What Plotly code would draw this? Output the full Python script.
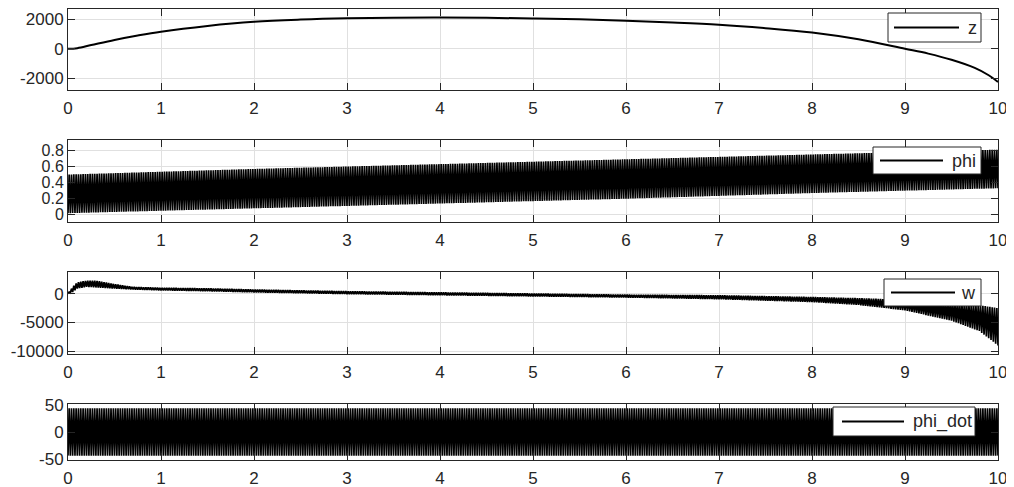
import numpy as np
import plotly.graph_objects as go

# ---------------- data ----------------
x_ticks = [0, 1, 2, 3, 4, 5, 6, 7, 8, 9, 10]

# z (smooth curve)
t_z = [0, 0.1, 0.25, 0.5, 0.75, 1, 1.5, 2, 2.5, 3, 3.5, 4, 4.5, 5, 5.5, 6,
       6.5, 7, 7.5, 8, 8.5, 9, 9.25, 9.5, 9.75, 9.9, 10]
z_vals = [0, 40, 250, 600, 900, 1160, 1550, 1830, 1980, 2070, 2110, 2120,
          2100, 2060, 2000, 1900, 1780, 1630, 1400, 1100, 640, 0, -330,
          -750, -1300, -1800, -2250]

# phi (dense oscillation): upper / lower envelopes
t_phi_env = [0, 2, 4, 6, 8, 10]
phi_upper = [0.50, 0.57, 0.63, 0.69, 0.75, 0.81]
phi_lower = [0.02, 0.08, 0.14, 0.20, 0.27, 0.33]

# w (dense oscillation): upper / lower envelopes
t_w_env = [0, 0.05, 0.1, 0.2, 0.3, 0.5, 0.7, 1, 1.5, 2, 3, 4, 5, 6, 7, 8,
           8.5, 9, 9.5, 9.8, 10]
w_upper = [0, 1200, 2000, 2300, 2300, 1700, 1200, 1050, 950, 750, 450, 250,
           50, -150, -250, -550, -750, -1050, -1600, -2000, -2500]
w_lower = [0, 300, 900, 1200, 1100, 900, 750, 600, 450, 250, -50, -250, -450,
           -650, -950, -1450, -1950, -2900, -4700, -6500, -9000]

# phi_dot (dense oscillation): upper / lower envelopes
t_phidot_env = [0, 10]
phidot_upper = [43, 43]
phidot_lower = [-43, -43]

# oscillation rate read from the tooth spacing (cycles per second)
osc_cycles_per_s = 40

series_names = ["z", "phi", "w", "phi_dot"]
y_ticks = [[-2000, 0, 2000], [0, 0.2, 0.4, 0.6, 0.8], [-10000, -5000, 0], [-50, 0, 50]]
y_ticktext = [["-2000", "0", "2000"], ["0", "0.2", "0.4", "0.6", "0.8"],
              ["-10000", "-5000", "0"], ["-50", "0", "50"]]
y_ranges = [[-2800, 2700], [-0.09, 0.93], [-10500, 3800], [-51, 51]]


def zigzag(t_env, upper, lower):
    n = int(round(10 * osc_cycles_per_s * 2))
    tt = np.linspace(0, 10, n + 1)
    up = np.interp(tt, t_env, upper)
    lo = np.interp(tt, t_env, lower)
    yy = np.where(np.arange(n + 1) % 2 == 0, lo, up)
    return tt, yy


t_phi, phi_vals = zigzag(t_phi_env, phi_upper, phi_lower)
t_w, w_vals = zigzag(t_w_env, w_upper, w_lower)
t_pd, pd_vals = zigzag(t_phidot_env, phidot_upper, phidot_lower)

# ---------------- figure ----------------
# the page has an 8px body margin, so the figure is drawn 8px in from the corner
OFF = 8
W, H = 1014 - OFF, 487 - OFF
def px(x):
    return (x - OFF) / W
def py(y):
    return 1 - (y - OFF) / H

x_dom = [px(68), px(998)]
panels_px = [(9, 90), (140, 222), (272, 354), (404, 460)]

FONT = "Liberation Sans, Arial, sans-serif"
AX = "#262626"
GRID = "#e0e0e0"

fig = go.Figure()
data = [(t_z, z_vals, 2.0, "spline"), (t_phi, phi_vals, 1.7, "linear"),
        (t_w, w_vals, 1.7, "linear"), (t_pd, pd_vals, 1.7, "linear")]
for i, (tx, ty, lw, shape) in enumerate(data):
    sfx = "" if i == 0 else str(i + 1)
    fig.add_trace(go.Scatter(x=tx, y=ty, mode="lines", name=series_names[i],
                             line=dict(color="black", width=lw, shape=shape),
                             xaxis="x" + sfx, yaxis="y" + sfx, showlegend=False))

layout = dict(width=W, height=H, margin=dict(l=0, r=0, t=0, b=0, autoexpand=False),
              plot_bgcolor="white", paper_bgcolor="white",
              font=dict(family=FONT, size=17, color=AX))
for i, (top, bot) in enumerate(panels_px):
    sfx = "" if i == 0 else str(i + 1)
    ysize = 16 if i == 1 else 17
    common = dict(showgrid=True, gridcolor=GRID, gridwidth=1, showline=True,
                  linecolor=AX, linewidth=1, mirror="ticks", ticks="inside",
                  ticklen=7, tickcolor=AX, tickwidth=1, zeroline=False,
                  automargin=False)
    layout["xaxis" + sfx] = dict(domain=x_dom, range=[0, 10], tickvals=x_ticks,
                                 ticktext=[str(v) for v in x_ticks],
                                 anchor="y" + sfx, ticklabelstandoff=3,
                                 tickfont=dict(family=FONT, size=17, color=AX), **common)
    layout["yaxis" + sfx] = dict(domain=[py(bot), py(top)], range=y_ranges[i],
                                 tickvals=y_ticks[i], ticktext=y_ticktext[i],
                                 anchor="x" + sfx,
                                 tickfont=dict(family=FONT, size=ysize, color=AX), **common)
fig.update_layout(**layout)

# legend boxes (pixel geometry)
legends = [
    # box x0, x1, y0, y1, line x0, x1, text x
    (888, 981, 13, 42, 894, 959, 966),
    (873, 981, 147, 174, 880, 943, 950),
    (884, 981, 279, 306, 891, 955, 959),
    (833, 975, 407, 436, 842, 904, 911),
]
for name, (bx0, bx1, by0, by1, lx0, lx1, tx) in zip(series_names, legends):
    yc = (by0 + by1) / 2
    fig.add_shape(type="rect", xref="paper", yref="paper",
                  x0=px(bx0), x1=px(bx1), y0=py(by1), y1=py(by0),
                  line=dict(color=AX, width=1), fillcolor="white", layer="above")
    fig.add_shape(type="line", xref="paper", yref="paper",
                  x0=px(lx0), x1=px(lx1), y0=py(yc), y1=py(yc),
                  line=dict(color="black", width=2), layer="above")
    fig.add_annotation(xref="paper", yref="paper", x=px(tx), y=py(yc),
                       text=name, showarrow=False, xanchor="left", yanchor="middle",
                       font=dict(family=FONT, size=18, color=AX))

fig.write_html("out.html")
